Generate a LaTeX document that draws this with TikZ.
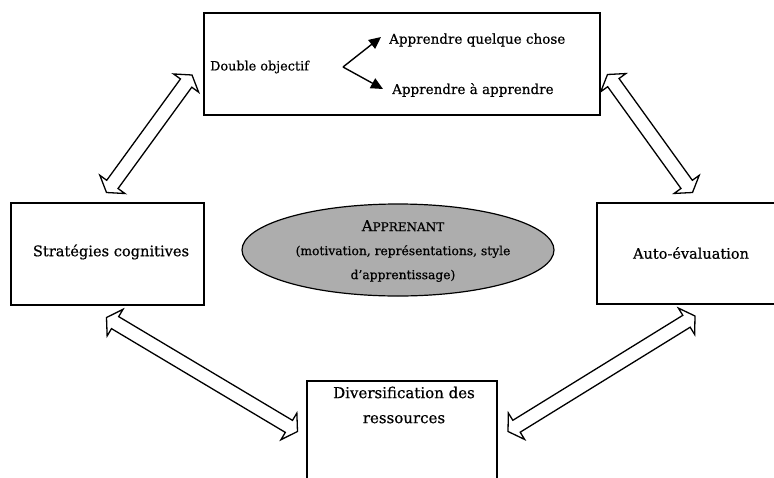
\documentclass[tikz,border=0pt]{standalone}
\usepackage{fontspec}
\setmainfont{DejaVu Serif}[FakeBold=0.6]
\usetikzlibrary{shapes.geometric,calc,arrows.meta}
\newcommand{\blockarrow}[2]{%
  \coordinate (#1h) at ($(#1)!10pt!(#2)$);
  \coordinate (#2h) at ($(#2)!10pt!(#1)$);
  \draw[blockarr] (#1) -- ($(#1h)!15.5pt!90:(#2)$) -- ($(#1h)!7pt!90:(#2)$)
    -- ($(#2h)!7pt!-90:(#1)$) -- ($(#2h)!15.5pt!-90:(#1)$) -- (#2)
    -- ($(#2h)!15.5pt!90:(#1)$) -- ($(#2h)!7pt!90:(#1)$)
    -- ($(#1h)!7pt!-90:(#2)$) -- ($(#1h)!15.5pt!-90:(#2)$) -- cycle;
}
\tikzset{
  box/.style={draw=black, line width=1.6pt, fill=white, inner sep=0pt},
  lbl/.style={inner sep=0pt, align=center, font=\fontsize{13.5}{25}\selectfont},
  blockarr/.style={draw=black, line width=1.3pt, fill=white, line join=miter},
  thinarr/.style={line width=1.4pt, -{Triangle[length=12pt,width=11pt]}},
}
\begin{document}
\begin{tikzpicture}[x=1pt,y=-1pt]
\useasboundingbox (0,0) rectangle (774,477);
\clip (0,0) rectangle (774,477);
% boxes
\node[box, minimum width=396pt, minimum height=102pt] (top) at (402,64) {};
\node[box, minimum width=193pt, minimum height=102pt] (left) at (107.5,254) {};
\node[box, minimum width=188pt, minimum height=101pt] (right) at (691,253.5) {};
\node[box, minimum width=190pt, minimum height=102pt] (bottom) at (402,432) {};
% ellipse
\node[ellipse, draw=black, line width=1.2pt, fill=black!32, minimum width=312pt, minimum height=92pt, inner sep=0pt] (learner) at (398,250) {};
% texts
\node[lbl, font=\fontsize{12.8}{14}\selectfont, anchor=west] (dbl) at (210,67) {Double objectif};
\node[lbl, anchor=west] (q1) at (389,40) {Apprendre quelque chose};
\node[lbl, anchor=west] (q2) at (392,90) {Apprendre à apprendre};
\node[lbl, font=\fontsize{14.6}{25}\selectfont] (tleft) at (111,252) {Stratégies cognitives};
\node[lbl, font=\fontsize{14.5}{25}\selectfont] (tright) at (691,253) {Auto-évaluation};
\node[lbl, font=\fontsize{15}{25}\selectfont] (tbottom) at (404,405) {Diversification des\\ressources};
\node[lbl, font=\fontsize{12.3}{24}\selectfont] (tlearner) at (403,251)
  {{\fontsize{15}{15}\selectfont A}{\fontsize{12}{12}\selectfont PPRENANT}\\(motivation, représentations, style\\d'apprentissage)};
% small arrows
\coordinate (fork) at (343,67);
\coordinate (fa) at (381,37);
\coordinate (fb) at (383,89);
\draw[thinarr] (fork) -- (fa);
\draw[thinarr] (fork) -- (fb);
% block arrows
\coordinate (tlA) at (106.5,192.5);
\coordinate (tlB) at (192,75);
\coordinate (trA) at (607.5,74.5);
\coordinate (trB) at (692.5,192.5);
\coordinate (blA) at (106.5,317.5);
\coordinate (blB) at (297.5,431.5);
\coordinate (brA) at (695,316);
\coordinate (brB) at (508,431.5);
\blockarrow{tlA}{tlB}
\blockarrow{trA}{trB}
\blockarrow{blA}{blB}
\blockarrow{brA}{brB}
\end{tikzpicture}
\end{document}
